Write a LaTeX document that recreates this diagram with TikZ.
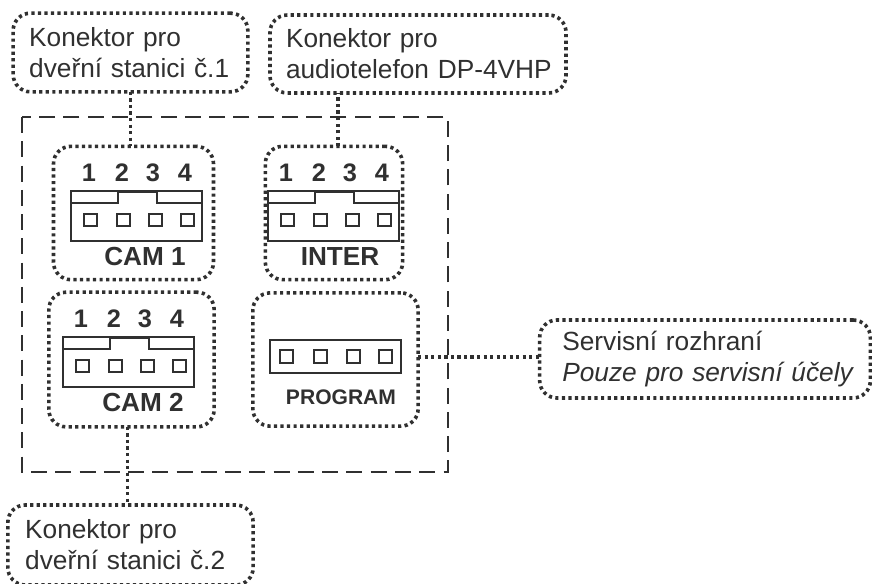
\documentclass[tikz,border=0pt]{standalone}
\usepackage{fontspec}
\setmainfont{Liberation Sans}
\definecolor{ink}{HTML}{303030}
\tikzset{
  x=0.75pt,y=-0.75pt,
  dotline/.style={draw=ink,line width=2.7pt,dash pattern=on 2.4pt off 2.5pt},
  dotbox/.style={dotline,rounded corners=13pt,inner sep=0pt,outer sep=0pt,anchor=center},
  callout/.style={dotbox,text=ink,align=left,font=\fontsize{19.7}{23.4}\selectfont},
  outline/.style={draw=ink,line width=1.6pt,dash pattern=on 12pt off 6.2pt},
  body/.style={draw=ink,line width=2pt},
  pin/.style={draw=ink,line width=1.7pt},
  pinno/.style={font=\fontsize{19}{20}\bfseries\selectfont,text=ink,inner sep=0pt},
  caption/.style={font=\fontsize{19.6}{20}\bfseries\selectfont,text=ink,inner sep=0pt},
  pics/fourpin/.style={code={
    \draw[body] (0,0) rectangle (131,50);
    \draw[body] (0,12) -- (47,12) -- (47,1) -- (86,1) -- (86,12) -- (131,12);
    \draw[pin] (13,23) rectangle (26,35);
    \draw[pin] (46,23) rectangle (59,35);
    \draw[pin] (78,23) rectangle (91,35);
    \draw[pin] (110,23) rectangle (123,35);
    \node[pinno] at (18,-18) {1};
    \node[pinno] at (51,-18) {2};
    \node[pinno] at (82,-18) {3};
    \node[pinno] at (114,-18) {4};
  }}
}
\hbadness=10000 \hfuzz=100pt
\begin{document}
\begin{tikzpicture}
\useasboundingbox (0,0) rectangle (872,583);
\clip (0,0) rectangle (872,583);
\fill[white] (0,0) rectangle (872,583);

% callouts
\node[callout,minimum width=176pt,minimum height=59pt,text width=152pt] (c1) at (130.5,52.5) {Konektor pro\\\mbox{dveřní stanici č.1}};
\node[callout,minimum width=222pt,minimum height=58.5pt,text width=198pt] (c2) at (418,54) {Konektor pro\\\mbox{audiotelefon DP-4VHP}};
\node[callout,minimum width=184pt,minimum height=60pt,text width=158pt] (c3) at (130.5,545) {Konektor pro\\\mbox{dveřní stanici č.2}};
\node[callout,minimum width=248pt,minimum height=58.5pt,text width=214pt] (c4) at (705,359) {Servisní rozhraní\\\mbox{\textit{Pouze pro servisní účely}}};

% module boxes
\node[dotbox,minimum width=120pt,minimum height=100pt] (cam1) at (133.5,213) {};
\node[dotbox,minimum width=103pt,minimum height=100pt] (inter) at (334,213) {};
\node[dotbox,minimum width=124pt,minimum height=101pt] (cam2) at (131.5,359.5) {};
\node[dotbox,minimum width=124pt,minimum height=100pt] (prog) at (335.5,359.5) {};

% dashed enclosure
\coordinate (tl) at (22,117);
\coordinate (br) at (448,472);
\draw[outline] (tl) rectangle (br);

% connector lines
\draw[dotline] (c1.south) -- (c1.south |- cam1.north);
\draw[dotline] ([xshift=3pt]inter.north) -- ([xshift=3pt]inter.north |- c2.south);
\draw[dotline] ([xshift=-3pt]cam2.south) -- ([xshift=-3pt]cam2.south |- c3.north);
\draw[dotline] ([yshift=1.5pt]prog.east |- c4.west) -- ([yshift=1.5pt]c4.west);

% sockets
\pic at (71,191) {fourpin};
\pic at (268,191) {fourpin};
\pic at (63,337) {fourpin};
\draw[body] (270,340) rectangle (401,373);
\draw[pin] (280,350) rectangle (293,363);
\draw[pin] (314,350) rectangle (327,363);
\draw[pin] (347,350) rectangle (360,363);
\draw[pin] (379,350) rectangle (392,363);

% captions
\node[caption] (t1) at (145,256) {CAM 1};
\node[caption] (t2) at (340,257) {INTER};
\node[caption] (t3) at (143,402) {CAM 2};
\node[caption,font=\fontsize{15.8}{16}\bfseries\selectfont] (t4) at (341,397) {PROGRAM};
\end{tikzpicture}
\end{document}
